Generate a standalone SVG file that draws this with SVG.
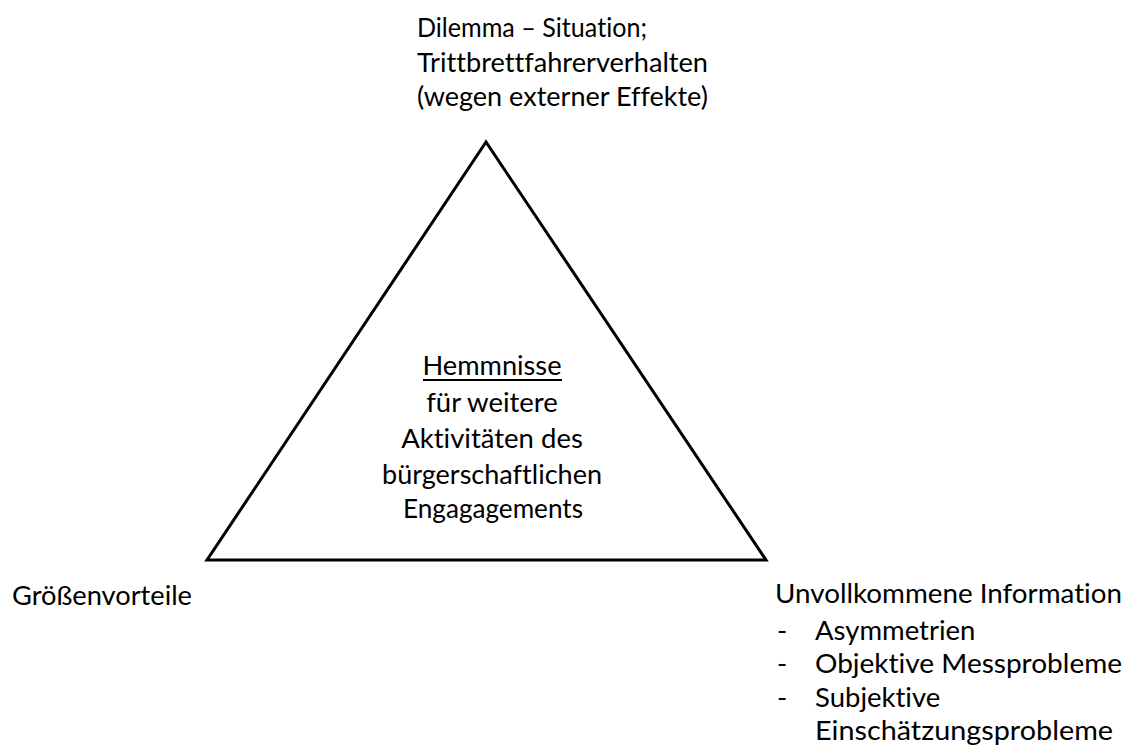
<svg xmlns="http://www.w3.org/2000/svg" width="1123" height="752" viewBox="0 0 1123 752">
<style>
text{font-family:Lato,"Open Sans","Liberation Sans",sans-serif;font-size:27.5px;fill:#000;font-variant-ligatures:none}
.c{text-anchor:middle}
</style>
<rect width="1123" height="752" fill="#fff"/>
<g id="connectors">
<polygon points="486,142 207,560 766,560" fill="none" stroke="#000" stroke-width="3" stroke-linejoin="miter"/>
</g>
<g id="node-top">
<text x="417" y="37" textLength="230" lengthAdjust="spacingAndGlyphs">Dilemma – Situation;</text>
<text x="417" y="72" textLength="291" lengthAdjust="spacingAndGlyphs">Trittbrettfahrerverhalten</text>
<text x="417" y="106" textLength="291" lengthAdjust="spacingAndGlyphs">(wegen externer Effekte)</text>
</g>
<g id="node-center">
<text class="c" x="492" y="375" textLength="139" lengthAdjust="spacingAndGlyphs">Hemmnisse</text>
<line x1="423" y1="380" x2="562" y2="380" stroke="#000" stroke-width="1.8"/>
<text class="c" x="492" y="412">für weitere</text>
<text class="c" x="492" y="448">Aktivitäten des</text>
<text class="c" x="492" y="484" textLength="220" lengthAdjust="spacingAndGlyphs">bürgerschaftlichen</text>
<text class="c" x="493" y="518" textLength="180" lengthAdjust="spacingAndGlyphs">Engagagements</text>
</g>
<g id="node-left">
<text x="12" y="605" textLength="180" lengthAdjust="spacingAndGlyphs">Größenvorteile</text>
</g>
<g id="node-right">
<text x="775" y="603" textLength="347" lengthAdjust="spacingAndGlyphs">Unvollkommene Information</text>
<text x="777" y="640">-</text>
<text x="815" y="640">Asymmetrien</text>
<text x="777" y="673">-</text>
<text x="815" y="673" textLength="307" lengthAdjust="spacingAndGlyphs">Objektive Messprobleme</text>
<text x="777" y="707">-</text>
<text x="815" y="707">Subjektive</text>
<text x="815" y="740" textLength="298" lengthAdjust="spacingAndGlyphs">Einschätzungsprobleme</text>
</g>
</svg>
